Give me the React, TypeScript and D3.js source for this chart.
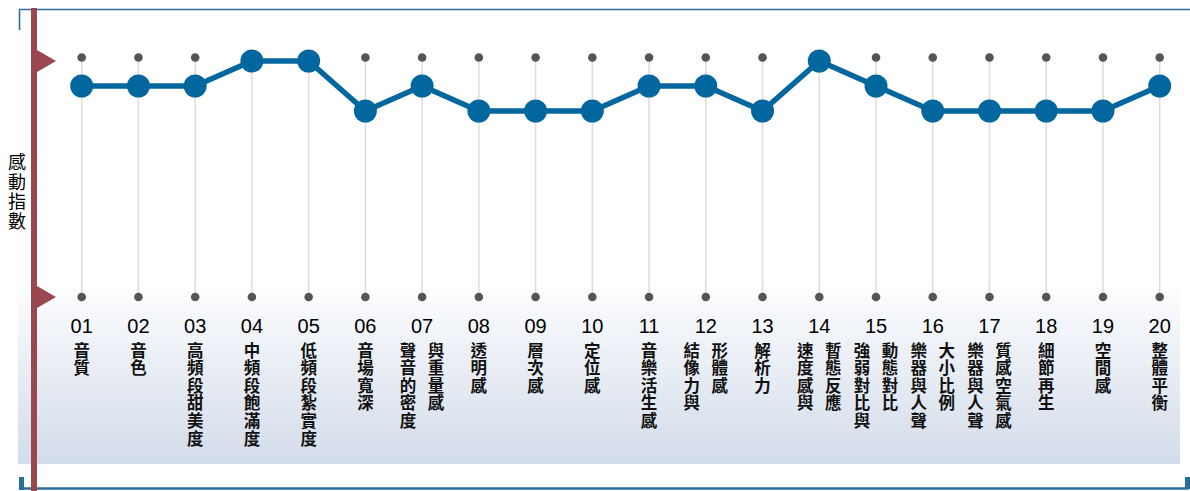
import * as d3 from 'd3';
import React from 'react';

// chart data
const itemCodes = ['01', '02', '03', '04', '05', '06', '07', '08', '09', '10',
  '11', '12', '13', '14', '15', '16', '17', '18', '19', '20'];

const itemLabels: string[][] = [
  ['音質'], ['音色'], ['高頻段甜美度'], ['中頻段飽滿度'], ['低頻段紮實度'],
  ['音場寬深'], ['聲音的密度', '與重量感'], ['透明感'], ['層次感'], ['定位感'],
  ['音樂活生感'], ['結像力與', '形體感'], ['解析力'], ['速度感與', '暫態反應'],
  ['強弱對比與', '動態對比'], ['樂器與人聲', '大小比例'], ['樂器與人聲', '質感空氣感'],
  ['細節再生'], ['空間感'], ['整體平衡'],
];

const scores = [9, 9, 9, 10, 10, 8, 9, 8, 8, 8, 9, 9, 8, 10, 9, 8, 8, 8, 8, 9];

const yAxisTitle = '感動指數';

const W = 1190;
const H = 491;
const BLUE = '#03679f';
const RED = '#9b4750';
const FRAME = '#2b6e9c';
const CJK = '"Noto Sans CJK TC", "Noto Sans CJK SC", sans-serif';

export default function App() {
  const x = d3.scalePoint<string>()
    .domain(itemCodes)
    .range([81.7, 1159.7]);

  const y = d3.scaleLinear()
    .domain([8, 10])
    .range([111, 61]);

  const axisTop = 57.5;
  const axisBottom = 297;

  const pts = itemCodes.map((c, i) => ({ code: c, v: scores[i] }));
  const line = d3.line<{ code: string; v: number }>()
    .x(d => x(d.code)!)
    .y(d => y(d.v));

  const pitch = 17.6;
  const colOffset = 14;

  return (
    <svg width={W} height={H} style={{ position: 'absolute', left: 0, top: 0, background: '#fff' }}>
      <defs>
        <linearGradient id="band" x1="0" y1="0" x2="0" y2="1">
          <stop offset="0" stopColor="#ffffff" />
          <stop offset="0.15" stopColor="#f6f8fb" />
          <stop offset="1" stopColor="#d3dcea" />
        </linearGradient>
      </defs>

      <rect x={18} y={284} width={1162} height={180} fill="url(#band)" />

      {/* frame brackets */}
      <path d={`M19.5,30 V9.5 H${W}`} fill="none" stroke={FRAME} strokeWidth={1.6} />
      <path d={`M21.5,477 V488.5 H1187.5 V477`} fill="none" stroke={FRAME} strokeWidth={2.6} />
      <rect x={19} y={477} width={5} height={13} fill={FRAME} />
      <rect x={1185} y={477} width={5} height={12} fill={FRAME} />

      {/* grid lines and dots */}
      {itemCodes.map(c => (
        <g key={c}>
          <line x1={x(c)} x2={x(c)} y1={axisTop} y2={axisBottom} stroke="#dcdcdc" strokeWidth={1.5} />
          <circle cx={x(c)} cy={axisTop} r={4.3} fill="#555" />
          <circle cx={x(c)} cy={axisBottom} r={4.3} fill="#555" />
        </g>
      ))}

      {/* red axis */}
      <rect x={31} y={8} width={6} height={H - 8} fill={RED} />
      <path d={`M37,50 L56,61 L37,72 Z`} fill={RED} />
      <path d={`M37,286 L56,297 L37,308 Z`} fill={RED} />

      <text fontSize={18} fontFamily={CJK} textAnchor="middle" dominantBaseline="central" fill="#000">
        {yAxisTitle.split('').map((ch, i) => (
          <tspan key={i} x={17} y={161 + i * 19.5}>{ch}</tspan>
        ))}
      </text>

      {/* score line */}
      <path d={line(pts)!} fill="none" stroke={BLUE} strokeWidth={5.5} strokeLinejoin="round" />
      {pts.map(p => (
        <circle key={p.code} cx={x(p.code)} cy={y(p.v)} r={11.5} fill={BLUE} />
      ))}

      {/* item labels */}
      {itemCodes.map((c, i) => {
        const cols = itemLabels[i];
        const cx = x(c)!;
        return (
          <g key={c}>
            <text x={cx} y={332.5} fontSize={20} fontFamily='"Liberation Sans", Arial, sans-serif'
              textAnchor="middle" fill="#000">{c}</text>
            {cols.map((col, j) => {
              const colX = cols.length === 1 ? cx : cx + (j === 0 ? -colOffset : colOffset);
              return (
                <text key={j} fontSize={16.5} fontFamily={CJK} fontWeight={700}
                  textAnchor="middle" dominantBaseline="central" fill="#111">
                  {col.split('').map((ch, k) => (
                    <tspan key={k} x={colX} y={349.5 + k * pitch}>{ch}</tspan>
                  ))}
                </text>
              );
            })}
          </g>
        );
      })}
    </svg>
  );
}
